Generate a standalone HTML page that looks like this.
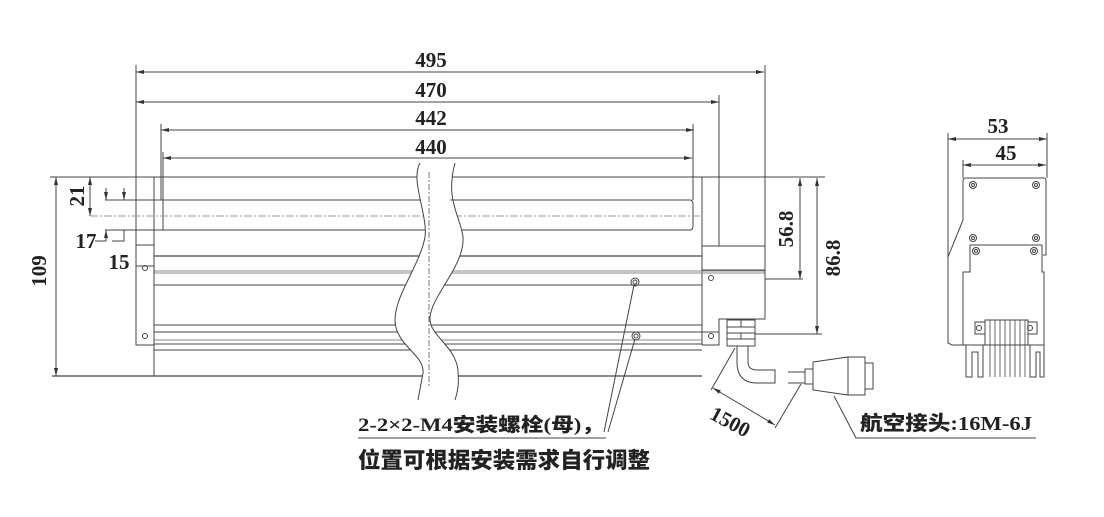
<!DOCTYPE html>
<html><head><meta charset="utf-8"><style>
html,body{margin:0;padding:0;background:#fff;}
svg{display:block;}
text{font-family:"Liberation Serif","Noto Serif CJK SC",serif;font-weight:bold;fill:#222;}
.c{font-family:"Liberation Serif","Noto Sans CJK SC",sans-serif;font-weight:900;}
</style></head><body>
<svg width="1104" height="517" viewBox="0 0 1104 517" xmlns="http://www.w3.org/2000/svg">
<defs>
<marker id="a" markerWidth="8" markerHeight="6" refX="8" refY="3" orient="auto-start-reverse" markerUnits="userSpaceOnUse"><path d="M0,1 L8,3 L0,5" fill="#333" stroke="none"/></marker>
</defs>
<g stroke="#444" stroke-width="1" fill="none">
<line x1="136" y1="72" x2="764" y2="72" marker-start="url(#a)" marker-end="url(#a)"/>
<line x1="136" y1="102" x2="719" y2="102" marker-start="url(#a)" marker-end="url(#a)"/>
<line x1="161" y1="130" x2="694" y2="130" marker-start="url(#a)" marker-end="url(#a)"/>
<line x1="163" y1="158" x2="692" y2="158" marker-start="url(#a)" marker-end="url(#a)"/>
<line x1="136" y1="65" x2="136" y2="245"/>
<line x1="765" y1="65" x2="765" y2="246"/>
<line x1="719" y1="95" x2="719" y2="246"/>
<line x1="161" y1="124" x2="161" y2="200"/>
<line x1="163" y1="152" x2="163" y2="230"/>
<line x1="693" y1="124" x2="693" y2="200"/>
<line x1="50" y1="177" x2="825" y2="177"/>
<line x1="154" y1="177" x2="154" y2="376"/>
<line x1="702" y1="177" x2="702" y2="345"/>
<path d="M105,200 H690 Q693,200 693,204 V226 Q693,230 690,230 H163 V200"/>
<line x1="90" y1="216" x2="702" y2="216" stroke="#999" stroke-dasharray="8,2,2,2"/>
<line x1="105" y1="230" x2="163" y2="230"/>
<line x1="154" y1="256" x2="702" y2="256" stroke-width="1.3"/>
<line x1="154" y1="271" x2="765" y2="271" stroke="#888"/>
<line x1="154" y1="273" x2="765" y2="273" stroke="#888"/>
<line x1="154" y1="285" x2="702" y2="285"/>
<line x1="154" y1="325" x2="702" y2="325"/>
<line x1="154" y1="332" x2="719" y2="332"/>
<line x1="154" y1="340" x2="702" y2="340" stroke="#888"/>
<line x1="154" y1="344" x2="702" y2="344"/>
<line x1="154" y1="350" x2="702" y2="350"/>
<line x1="52" y1="376" x2="702" y2="376" stroke-width="1.3"/>
<rect x="136" y="245" width="18" height="100"/>
<line x1="136" y1="266" x2="154" y2="266"/>
<circle cx="145" cy="268" r="2.5"/><circle cx="145" cy="336" r="2.5"/>
<path d="M702,246 H765 V319 H719 V345 H702"/>
<line x1="702" y1="270" x2="765" y2="270"/>
<circle cx="711" cy="278" r="2.5"/><circle cx="711" cy="336" r="2.5"/>
<rect x="727" y="320" width="28" height="26"/>
<line x1="727" y1="327" x2="755" y2="327"/><line x1="727" y1="333" x2="755" y2="333"/><line x1="727" y1="339" x2="755" y2="339"/>
<line x1="741" y1="320" x2="741" y2="327"/><line x1="741" y1="333" x2="741" y2="339"/>
<path d="M737,346 V362 Q737,383 757,383 H775 V370 H757 Q748,370 748,362 V346"/>
<path d="M788,372 H805 V383 H788"/>
<rect x="805" y="369" width="8" height="15"/>
<path d="M813,362 L848,357 V395 L813,390 Z"/>
<rect x="848" y="357" width="17" height="38"/>
<rect x="865" y="363" width="8" height="26"/>
<line x1="735" y1="348" x2="711" y2="390"/>
<line x1="801" y1="384" x2="775" y2="428"/>
<line x1="713" y1="388" x2="775" y2="425" marker-start="url(#a)" marker-end="url(#a)"/>
<polyline points="834,396 856,438 1036,438"/>
<line x1="765" y1="279" x2="803" y2="279"/>
<line x1="755" y1="334" x2="822" y2="334"/>
<line x1="800" y1="178" x2="800" y2="279" marker-start="url(#a)" marker-end="url(#a)"/>
<line x1="817" y1="178" x2="817" y2="334" marker-start="url(#a)" marker-end="url(#a)"/>
<line x1="56" y1="177" x2="56" y2="376" marker-start="url(#a)" marker-end="url(#a)"/>
<line x1="90" y1="177" x2="90" y2="216" marker-start="url(#a)" marker-end="url(#a)"/>
<line x1="106" y1="188" x2="106" y2="200" marker-end="url(#a)"/>
<line x1="124" y1="188" x2="124" y2="200" marker-end="url(#a)"/>
<polyline points="95,241 106,241 106,232"/>
<line x1="106" y1="236" x2="106" y2="230" marker-end="url(#a)"/>
<polyline points="112,241 124,241 124,230"/>
<circle cx="635" cy="282" r="4"/><circle cx="635" cy="282" r="2"/>
<circle cx="636" cy="336" r="4"/><circle cx="636" cy="336" r="2"/>
<line x1="634" y1="285" x2="604" y2="432"/>
<line x1="635" y1="339" x2="608" y2="432"/>
<line x1="358" y1="438" x2="606" y2="438"/>
<path d="M420,163 C410,180 428,215 425,237 C420,265 395,295 395,320 C395,345 425,355 423,373 L418,400 L455,400 C460,385 458,375 458,370 C455,345 428,335 430,317 C432,295 465,265 463,237 C460,215 445,200 450,187 L455,163 Z" fill="#fff" stroke="none"/>
<path d="M420,163 C410,180 428,215 425,237 C420,265 395,295 395,320 C395,345 425,355 423,373 L418,400"/>
<path d="M455,163 C445,200 460,215 463,237 C465,265 432,295 430,317 C428,335 455,345 458,370 C458,375 460,385 455,400"/>
<line x1="429" y1="172" x2="429" y2="388" stroke="#777" stroke-dasharray="6,2,2,2"/>
<line x1="948" y1="133" x2="948" y2="258"/>
<line x1="1047" y1="133" x2="1047" y2="178"/>
<line x1="963" y1="160" x2="963" y2="178"/>
<line x1="948" y1="139" x2="1047" y2="139" marker-start="url(#a)" marker-end="url(#a)"/>
<line x1="963" y1="165" x2="1046" y2="165" marker-start="url(#a)" marker-end="url(#a)"/>
<path d="M966,178 H1044 Q1046,178 1046,181 V255 H1043"/>
<path d="M966,178 Q963,178 963,181 V220 L948,257 V343 L952,345 H963"/>
<path d="M970,245 H1042 V272 H1044 V345 H963 V272 H970 Z"/>
<rect x="985" y="320" width="43" height="25"/>
<path d="M975,322 H985 V334 H975 Z M1028,322 H1037 V334 H1028 Z"/>
<g stroke-width="0.8">
<line x1="990" y1="320" x2="990" y2="377"/><line x1="995" y1="320" x2="995" y2="377"/><line x1="1000" y1="320" x2="1000" y2="377"/><line x1="1005" y1="320" x2="1005" y2="377"/><line x1="1010" y1="320" x2="1010" y2="377"/><line x1="1015" y1="320" x2="1015" y2="377"/><line x1="1020" y1="320" x2="1020" y2="377"/><line x1="1025" y1="320" x2="1025" y2="377"/>
</g>
<path d="M966,345 V377 H972 V352 H978 V377 H983 V345"/>
<path d="M1030,345 V377 H1036 V352 H1040 V377 H1044 V345"/>
<circle cx="973" cy="185" r="3.5"/><circle cx="973" cy="185" r="1.5"/>
<circle cx="1036" cy="185" r="3.5"/><circle cx="1036" cy="185" r="1.5"/>
<circle cx="973" cy="238" r="3.5"/><circle cx="973" cy="238" r="1.5"/>
<circle cx="1036" cy="238" r="3.5"/><circle cx="1036" cy="238" r="1.5"/>
<circle cx="976" cy="251" r="3.5"/><circle cx="976" cy="251" r="1.5"/>
<circle cx="1034" cy="251" r="3.5"/><circle cx="1034" cy="251" r="1.5"/>
<circle cx="979" cy="328" r="2.5"/><circle cx="1030" cy="328" r="2.5"/>
</g>
<g font-size="21" text-anchor="middle">
<text x="431" y="67">495</text>
<text x="431" y="97">470</text>
<text x="431" y="125">442</text>
<text x="431" y="154">440</text>
<text x="998" y="133">53</text>
<text x="1006" y="160">45</text>
<text x="86" y="248">17</text>
<text x="119" y="269">15</text>
<text transform="translate(84,196) rotate(-90)">21</text>
<text transform="translate(46,271) rotate(-90)">109</text>
<text transform="translate(793,229) rotate(-90)">56.8</text>
<text transform="translate(840,258) rotate(-90)">86.8</text>
<text transform="translate(727,428) rotate(28)">1500</text>
</g>
<text class="c" x="358" y="431" font-size="19" textLength="246" lengthAdjust="spacingAndGlyphs">2-2×2-M4安装螺栓(母)，</text>
<text class="c" x="358" y="468" font-size="22" textLength="292" lengthAdjust="spacingAndGlyphs">位置可根据安装需求自行调整</text>
<text class="c" x="860" y="430" font-size="20" textLength="172" lengthAdjust="spacingAndGlyphs">航空接头:16M-6J</text>
</svg>
</body></html>
